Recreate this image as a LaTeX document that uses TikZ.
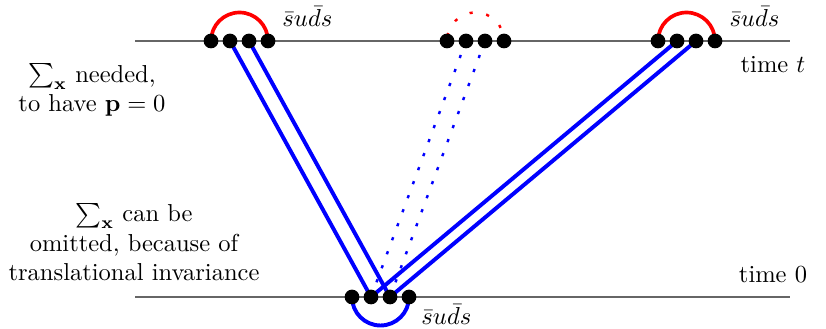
\documentclass[tikz,border=0pt]{standalone}
\begin{document}
\begin{tikzpicture}[x=0.408pt,y=0.408pt,
  timeline/.style={draw=black!60,line width=0.6pt},
  quark/.style={circle,fill=black,inner sep=0pt,minimum size=6pt},
  redarc/.style={draw=red,line width=1.5pt},
  blueline/.style={draw=blue,line width=1.6pt},
  bluedot/.style={draw=blue,line width=1pt,dash pattern=on 1.3pt off 4.8pt},
  reddot/.style={draw=red,line width=1pt,dash pattern=on 1.3pt off 5.6pt,dash phase=-2pt},
  lab/.style={inner sep=0pt}]
\useasboundingbox (0,0) rectangle (826,329);
% time lines
\coordinate (tl) at (135,288);
\coordinate (tr) at (790,288);
\coordinate (bl) at (135,32);
\coordinate (br) at (790,32);
\draw[timeline] (tl) -- (tr);
\draw[timeline] (bl) -- (br);
% quark positions
\foreach \n/\x in {1/211,2/230,3/249,4/268}{\coordinate (a\n) at (\x,288);}
\foreach \n/\x in {1/447,2/466,3/485,4/504}{\coordinate (b\n) at (\x,288);}
\foreach \n/\x in {1/658,2/677,3/696,4/715}{\coordinate (c\n) at (\x,288);}
\foreach \n/\x in {1/352,2/371,3/390,4/409}{\coordinate (d\n) at (\x,32);}
% arcs
\draw[redarc] (a1) arc[start angle=180,end angle=0,radius=28.5];
\draw[redarc] (c1) arc[start angle=180,end angle=0,radius=28.5];
\draw[reddot] (b1) arc[start angle=180,end angle=0,radius=28.5];
\draw[blueline] (d1) arc[start angle=180,end angle=360,radius=28.5];
% propagators
\draw[blueline] (a2) -- (d2);
\draw[blueline] (a3) -- (d3);
\draw[blueline] (c2) -- (d2);
\draw[blueline] (c3) -- (d3);
\draw[bluedot] (b2) -- (d2);
\draw[bluedot] (b3) -- (d3);
% quark dots
\foreach \p in {a,b,c,d}{\foreach \n in {1,2,3,4}{\node[quark] (q\p\n) at (\p\n) {};}}
% labels
\node[lab,anchor=base west] (la) at (282,302) {$\bar s u \bar d s$};
\node[lab,anchor=base west] (lc) at (729,302) {$\bar s u \bar d s$};
\node[lab,anchor=base west] (ld) at (421,4) {$\bar s u \bar d s$};
\node[lab,anchor=base] (tt) at (773,256) {time $t$};
\node[lab,anchor=base] (t0) at (773,46) {time $0$};
\node[lab,align=center] (n1) at (92,239) {$\sum_{\mathbf{x}}$ needed,\\ to have $\mathbf{p}=0$};
\node[lab,align=center] (n2) at (134,87) {$\sum_{\mathbf{x}}$ can be\\ omitted, because of\\ translational invariance};
\end{tikzpicture}
\end{document}
